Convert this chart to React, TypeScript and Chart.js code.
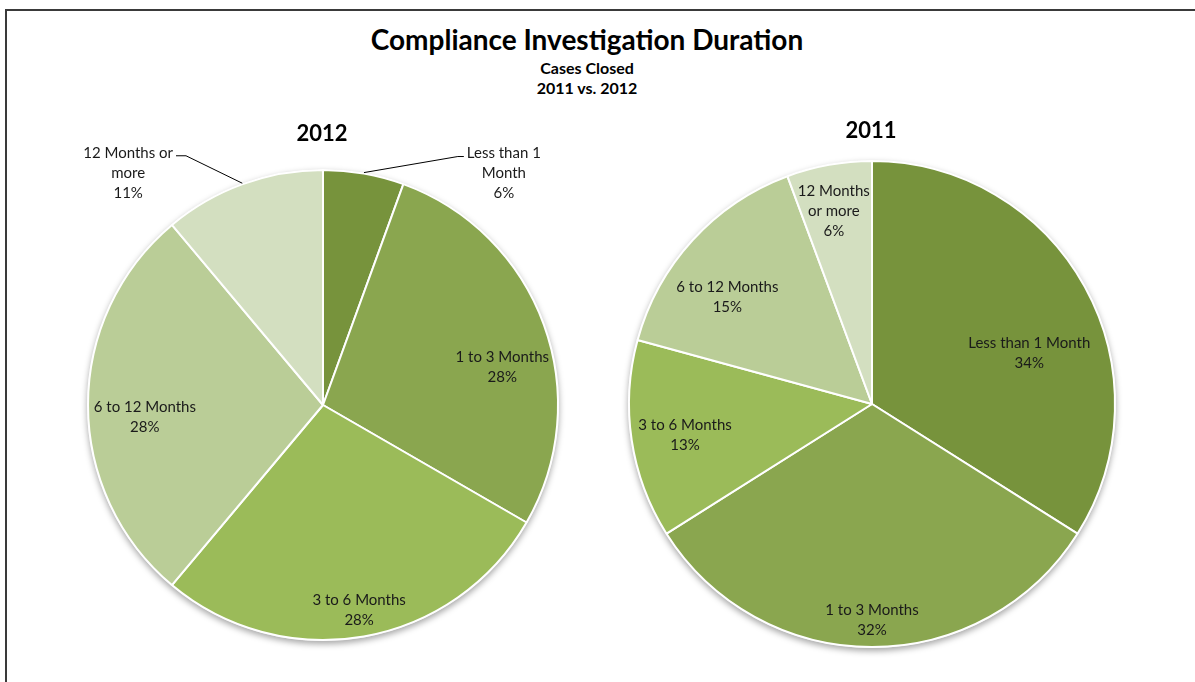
import React, { useEffect, useRef } from 'react';
import { Chart, registerables } from 'chart.js';

Chart.register(...registerables);

// ---- data ----
const categories = ['Less than 1 Month', '1 to 3 Months', '3 to 6 Months', '6 to 12 Months', '12 Months or more'];
const cases2012 = [1, 5, 5, 5, 2];
const cases2011 = [18, 17, 7, 8, 3];
const labelLines2012 = [['Less than 1', 'Month'], ['1 to 3 Months'], ['3 to 6 Months'], ['6 to 12 Months'], ['12 Months or', 'more']];
const labelLines2011 = [['Less than 1 Month'], ['1 to 3 Months'], ['3 to 6 Months'], ['6 to 12 Months'], ['12 Months', 'or more']];
const mainTitle = 'Compliance Investigation Duration';
const subTitles = ['Cases Closed', '2011 vs. 2012'];
const pieTitles = ['2012', '2011'];

// ---- styles ----
const sliceColors = ['#77933C', '#8AA64F', '#9BBB59', '#BACD97', '#D3DFC0'];
const FONT = 'Lato, "Open Sans", sans-serif';
// label placement: angular shift (deg) from slice middle, radius fraction, leader line
const place2012 = [
  { shift: 28, r: 1.25, leader: true },
  { shift: 8, r: 0.78, leader: false },
  { shift: 0, r: 0.885, leader: false },
  { shift: -4, r: 0.76, leader: false },
  { shift: -20, r: 1.29, leader: true },
];
const place2011 = [
  { shift: 11, r: 0.68, leader: false },
  { shift: 0, r: 0.89, leader: false },
  { shift: -1, r: 0.78, leader: false },
  { shift: -6, r: 0.74, leader: false },
  { shift: -1, r: 0.81, leader: false },
];

type Place = { shift: number; r: number; leader: boolean };

function makeLabelPlugin(lines: string[][], values: number[], place: Place[]) {
  const total = values.reduce((a, b) => a + b, 0);
  return {
    id: 'sliceLabels',
    beforeDatasetsDraw(chart: any) {
      const ctx = chart.ctx;
      const arc = chart.getDatasetMeta(0).data[0];
      if (!arc) return;
      const { x, y, outerRadius } = arc.getProps(['x', 'y', 'outerRadius'], true);
      ctx.save();
      ctx.shadowColor = 'rgba(0,0,0,0.35)';
      ctx.shadowBlur = 6;
      ctx.shadowOffsetY = 3;
      ctx.beginPath();
      ctx.arc(x, y, outerRadius + 1, 0, Math.PI * 2);
      ctx.fillStyle = '#e8e8e8';
      ctx.fill();
      ctx.restore();
    },
    afterDatasetsDraw(chart: any) {
      const ctx = chart.ctx;
      const meta = chart.getDatasetMeta(0);
      ctx.save();
      ctx.font = `15px ${FONT}`;
      ctx.fillStyle = '#1a1a1a';
      ctx.textAlign = 'center';
      ctx.textBaseline = 'middle';
      const lh = 20;
      meta.data.forEach((el: any, i: number) => {
        const { x, y, startAngle, endAngle, outerRadius } = el.getProps(
          ['x', 'y', 'startAngle', 'endAngle', 'outerRadius'],
          true
        );
        const mid = (startAngle + endAngle) / 2;
        const p = place[i];
        const a = mid + (p.shift * Math.PI) / 180;
        const px = x + Math.cos(a) * outerRadius * p.r;
        const py = y + Math.sin(a) * outerRadius * p.r;
        const pct = Math.round((values[i] / total) * 100) + '%';
        const all = [...lines[i], pct];
        const top = py - ((all.length - 1) * lh) / 2;
        all.forEach((t, k) => ctx.fillText(t, px, top + k * lh));
        if (p.leader) {
          const w = ctx.measureText(lines[i][0]).width;
          const sx = x + Math.cos(mid) * (outerRadius + 1);
          const sy = y + Math.sin(mid) * (outerRadius + 1);
          const right = Math.cos(a) > 0;
          const ex = right ? px - w / 2 - 3 : px + w / 2 + 3;
          const ey = top + 3;
          const bx = right ? ex - 6 : ex + 10;
          ctx.beginPath();
          ctx.strokeStyle = '#000';
          ctx.lineWidth = 1;
          ctx.moveTo(sx, sy);
          ctx.lineTo(bx, ey);
          ctx.lineTo(ex, ey);
          ctx.stroke();
        }
      });
      ctx.restore();
    },
  };
}

function PieCanvas(props: {
  values: number[];
  lines: string[][];
  place: Place[];
  radius: number;
  left: number;
  top: number;
  size: number;
}) {
  const ref = useRef<HTMLCanvasElement>(null);
  useEffect(() => {
    if (!ref.current) return;
    const chart = new Chart(ref.current, {
      type: 'pie',
      data: {
        labels: categories,
        datasets: [
          {
            data: props.values,
            backgroundColor: sliceColors,
            borderColor: '#ffffff',
            borderWidth: 2,
          },
        ],
      },
      options: {
        responsive: false,
        animation: false,
        radius: props.radius,
        events: [],
        layout: { padding: 0 },
        plugins: {
          legend: { display: false },
          tooltip: { enabled: false },
          title: { display: false },
        },
      } as any,
      plugins: [makeLabelPlugin(props.lines, props.values, props.place)],
    });
    return () => chart.destroy();
  }, []);
  return (
    <canvas
      ref={ref}
      width={props.size}
      height={props.size}
      style={{ position: 'absolute', left: props.left, top: props.top, width: props.size, height: props.size }}
    />
  );
}

function CenterText(props: { text: string; cx: number; cy: number; size: number; bold?: boolean }) {
  return (
    <div
      style={{
        position: 'absolute',
        left: props.cx - 300,
        width: 600,
        top: props.cy - props.size,
        height: props.size * 2,
        lineHeight: `${props.size * 2}px`,
        textAlign: 'center',
        fontFamily: FONT,
        fontWeight: props.bold ? 700 : 400,
        fontSize: props.size,
        color: '#000',
        whiteSpace: 'nowrap',
      }}
    >
      {props.text}
    </div>
  );
}

export default function App() {
  useEffect(() => {
    document.body.style.overflow = 'hidden';
  }, []);
  return (
    <div style={{ position: 'absolute', left: 0, top: 0, width: 1195, height: 682, background: '#fff', overflow: 'hidden' }}>
      <div
        style={{
          position: 'absolute',
          left: 5,
          top: 9,
          width: 1400,
          height: 900,
          borderLeft: '2px solid #3a3a3a',
          borderTop: '2px solid #3a3a3a',
          boxSizing: 'border-box',
        }}
      />
      <PieCanvas values={cases2012} lines={labelLines2012} place={place2012} radius={235} left={43} top={125} size={560} />
      <PieCanvas values={cases2011} lines={labelLines2011} place={place2011} radius={243} left={592} top={124} size={560} />
      <CenterText text={mainTitle} cx={587} cy={39} size={28} bold />
      <CenterText text={subTitles[0]} cx={587} cy={68} size={16} bold />
      <CenterText text={subTitles[1]} cx={587} cy={88} size={16} bold />
      <CenterText text={pieTitles[0]} cx={322} cy={133} size={22} bold />
      <CenterText text={pieTitles[1]} cx={871} cy={130} size={22} bold />
    </div>
  );
}
